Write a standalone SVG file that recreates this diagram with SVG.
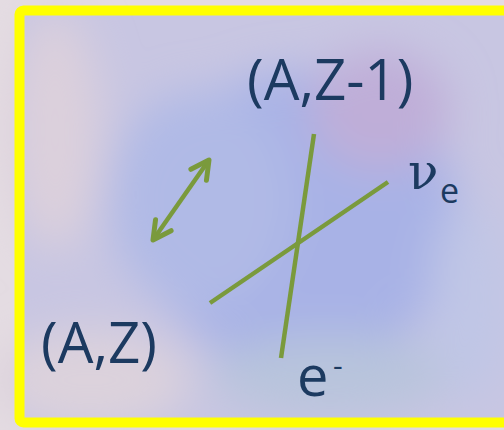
<svg xmlns="http://www.w3.org/2000/svg" width="504" height="430" viewBox="0 0 504 430">
<defs>
<filter id="blur" x="-50%" y="-50%" width="200%" height="200%"><feGaussianBlur stdDeviation="22"/></filter>
<marker id="ah" viewBox="-2 -2 26 26" refX="20" refY="11" markerWidth="26" markerHeight="26" orient="auto-start-reverse" markerUnits="userSpaceOnUse">
<path d="M2,1.5 L20,11 L2,20.5" fill="none" stroke="#7a9a3c" stroke-width="5" stroke-linecap="round" stroke-linejoin="round"/>
</marker>
<style>
.lbl{font-family:"Open Sans","Liberation Sans",sans-serif;fill:#1c3a60}
.ln{stroke:#7a9a3c;stroke-width:4.5;fill:none}
</style>
</defs>
<rect width="504" height="430" fill="#e4dce2"/>
<g id="background">
<rect x="20" y="11" width="490" height="412" fill="#c8c6e2"/>
<g filter="url(#blur)">
<ellipse cx="300" cy="220" rx="160" ry="150" fill="#a8b2e6"/>
<ellipse cx="200" cy="200" rx="90" ry="110" fill="#b0bae6"/>
<ellipse cx="380" cy="110" rx="70" ry="60" fill="#bfaed8"/>
<ellipse cx="55" cy="130" rx="45" ry="120" fill="#dcd0dc"/>
<ellipse cx="90" cy="380" rx="100" ry="50" fill="#dcd2dc"/>
<ellipse cx="470" cy="300" rx="40" ry="100" fill="#c0c6e6"/>
<ellipse cx="330" cy="375" rx="120" ry="40" fill="#b8c4dc"/>
</g>
</g>
<rect id="frame" x="19.5" y="10.5" width="500" height="412" rx="4" fill="none" stroke="#ffff00" stroke-width="10"/>
<g id="connectors">
<line class="ln" x1="314" y1="134" x2="281" y2="358"/>
<line class="ln" x1="210" y1="303" x2="388" y2="182"/>
<line class="ln" x1="153" y1="240" x2="209" y2="160" stroke-width="5" marker-start="url(#ah)" marker-end="url(#ah)"/>
</g>
<g id="node-AZ1"><text class="lbl" x="247" y="100" font-size="56.5">(A,Z-1)</text></g>
<g id="node-AZ"><text class="lbl" x="41" y="363" font-size="56.5">(A,Z)</text></g>
<g id="node-nue"><text class="lbl" x="408" y="189" font-size="50" style="font-family:'DejaVu Serif',serif">ν</text><text class="lbl" x="440" y="203" font-size="34">e</text></g>
<g id="node-e"><text class="lbl" x="297" y="396" font-size="56">e</text><text class="lbl" x="333" y="376" font-size="30">-</text></g>
</svg>
